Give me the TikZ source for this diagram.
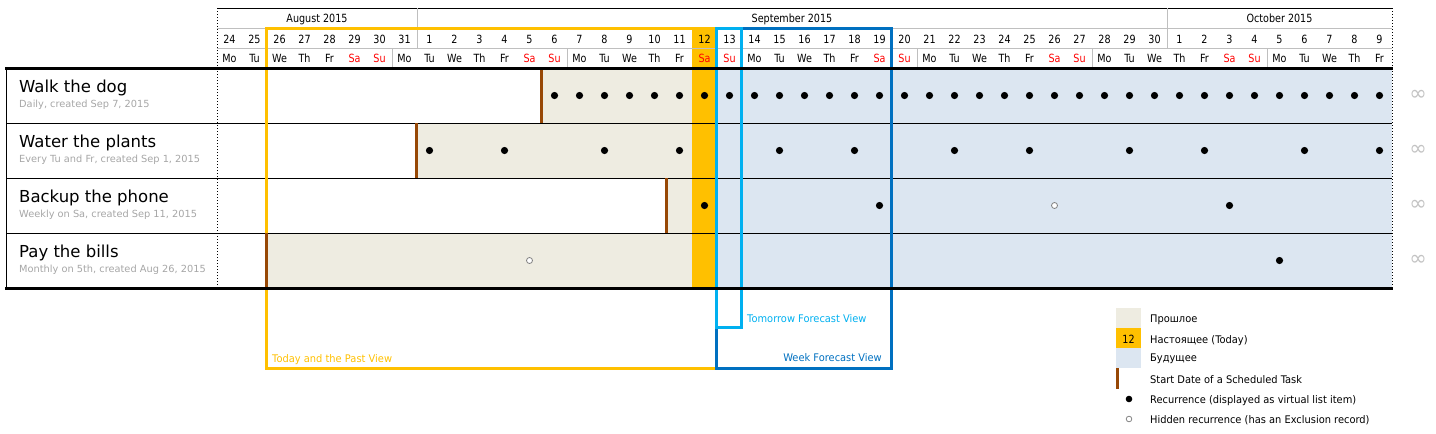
\documentclass[tikz,border=0pt]{standalone}
\usepackage{fontspec}
\setmainfont{DejaVu Sans}
\newfontfamily\hdrfont[FakeStretch=0.85]{DejaVu Sans}
\newfontfamily\legfont[FakeStretch=0.94]{DejaVu Sans}
\definecolor{past}{RGB}{238,236,225}
\definecolor{today}{RGB}{255,192,0}
\definecolor{future}{RGB}{220,230,241}
\definecolor{startc}{RGB}{151,72,6}
\definecolor{tomc}{RGB}{0,176,240}
\definecolor{weekc}{RGB}{0,112,192}
\definecolor{gridg}{RGB}{191,191,191}
\definecolor{subg}{RGB}{166,166,166}
\definecolor{infg}{RGB}{195,195,195}
\definecolor{wkend}{RGB}{255,0,0}
\begin{document}
\begin{tikzpicture}[x=1pt,y=-1pt,
  hdrtxt/.style={font=\hdrfont\fontsize{11.3}{13}\selectfont, inner sep=0pt, anchor=base},
  titletxt/.style={font=\fontsize{16.5}{19}\selectfont, inner sep=0pt, anchor=base west},
  subtxt/.style={font=\fontsize{9.8}{12}\selectfont, text=subg, inner sep=0pt, anchor=base west},
  legtxt/.style={font=\legfont\fontsize{10.5}{12}\selectfont, inner sep=0pt, anchor=base west},
  gridline/.style={draw=gridg, line width=1pt},
  rowline/.style={draw=black, line width=1pt},
  thickline/.style={draw=black, line width=3pt},
  dotline/.style={draw=black, line width=1pt, dotted},
  startline/.style={draw=startc, line width=2.5pt},
  framebox/.style={line width=3pt},
  recdot/.style={fill=black},
  hiddot/.style={draw=gray, line width=0.8pt, fill=white},
  inftxt/.style={font=\fontsize{21}{21}\selectfont, text=infg, inner sep=0pt}
]
\useasboundingbox (0,0) rectangle (1436,434);

% ---------- backgrounds ----------
\fill[past] (542,68) rectangle (692,123);
\fill[past] (417,123) rectangle (692,178);
\fill[past] (667,178) rectangle (692,233);
\fill[past] (267,233) rectangle (692,288);
\fill[today] (692,28) rectangle (717,288);
\fill[future] (717,68) rectangle (1392,288);

% ---------- header grid ----------
\draw[rowline] (217,8) -- (1392,8);
\draw[gridline] (217,28) -- (1392,28);
\draw[gridline] (217,48) -- (1392,48);
\foreach \x in {417,1167} \draw[gridline] (\x,8) -- (\x,48);
\foreach \x in {392,567,742,917,1092,1267} \draw[gridline] (\x,48) -- (\x,68);

% month labels
\node[hdrtxt] (mAug) at (317,22) {August 2015};
\node[hdrtxt] (mSep) at (792,22) {September 2015};
\node[hdrtxt] (mOct) at (1279.5,22) {October 2015};

% day numbers and weekdays
\foreach \i in {0,...,46}{
  \pgfmathtruncatemacro\dnum{\i<8 ? 24+\i : (\i<38 ? \i-7 : \i-37)}
  \pgfmathtruncatemacro\wdn{mod(\i,7)}
  \pgfmathsetmacro\cx{229.5+25*\i}
  \ifnum\wdn>4 \def\wcol{wkend}\else\def\wcol{black}\fi
  \node[hdrtxt] (dn\i) at (\cx,43) {\dnum};
  \node[hdrtxt, text=\wcol] (wd\i) at (\cx,62) {\ifcase\wdn Mo\or Tu\or We\or Th\or Fr\or Sa\or Su\fi};
}

% ---------- task grid ----------
\draw[rowline] (6,68) -- (6,288);
\foreach \y in {123,178,233} \draw[rowline] (6,\y) -- (1392,\y);
\draw[dotline] (217,8) -- (217,288);
\draw[dotline] (1392,8) -- (1392,288);

% task labels
\node[titletxt] (t1) at (19,92) {Walk the dog};
\node[subtxt] (s1) at (19,107) {Daily, created Sep 7, 2015};
\node[titletxt] (t2) at (19,147) {Water the plants};
\node[subtxt] (s2) at (19,162) {Every Tu and Fr, created Sep 1, 2015};
\node[titletxt] (t3) at (19,202) {Backup the phone};
\node[subtxt] (s3) at (19,217) {Weekly on Sa, created Sep 11, 2015};
\node[titletxt] (t4) at (19,257) {Pay the bills};
\node[subtxt] (s4) at (19,272) {Monthly on 5th, created Aug 26, 2015};

% ---------- recurrences ----------
\foreach \i in {13,...,46} \fill[recdot] (229.5+25*\i,95.5) circle[radius=3.6pt];
\foreach \i in {8,11,15,18,22,25,29,32,36,39,43,46} \fill[recdot] (229.5+25*\i,150.5) circle[radius=3.6pt];
\foreach \i in {19,26,40} \fill[recdot] (229.5+25*\i,205.5) circle[radius=3.6pt];
\draw[hiddot] (229.5+25*33,205.5) circle[radius=3pt];
\fill[recdot] (229.5+25*42,260.5) circle[radius=3.6pt];
\draw[hiddot] (229.5+25*12,260.5) circle[radius=3pt];

% infinity
\foreach \y [count=\k] in {95.5,150.5,205.5,260.5} \node[inftxt] (inf\k) at (1418,\y) {∞};

% ---------- view frames ----------
\draw[framebox, draw=today] (266,28) rectangle (716,368);
\draw[framebox, draw=weekc] (716,28) rectangle (891,368);
\draw[framebox, draw=tomc] (716,28) rectangle (741,327);

\node[legtxt, text=today] (lpast) at (272,362) {Today and the Past View};
\node[legtxt, text=tomc] (ltom) at (747,322) {Tomorrow Forecast View};
\node[legtxt, text=weekc, anchor=base east] (lweek) at (882,361) {Week Forecast View};

% start date lines
\draw[startline] (541.5,68) -- (541.5,123);
\draw[startline] (416.5,123) -- (416.5,178);
\draw[startline] (666.5,178) -- (666.5,233);
\draw[startline] (266.5,233) -- (266.5,288);

% thick rules
\draw[thickline] (5,68) -- (1393,68);
\draw[thickline] (5,288) -- (1393,288);

% ---------- legend ----------
\fill[past] (1116,308) rectangle (1141,328);
\fill[today] (1116,328) rectangle (1141,348);
\fill[future] (1116,348) rectangle (1141,368);
\node[hdrtxt] (lg12) at (1128.5,343) {12};
\draw[startline] (1117.5,368) -- (1117.5,389);
\fill[recdot] (1129,399) circle[radius=3.3pt];
\draw[hiddot] (1129,419) circle[radius=2.8pt];
\node[legtxt] (lgA) at (1150,322) {Прошлое};
\node[legtxt] (lgB) at (1150,343) {Настоящее (Today)};
\node[legtxt] (lgC) at (1150,361) {Будущее};
\node[legtxt] (lgD) at (1150,383) {Start Date of a Scheduled Task};
\node[legtxt] (lgE) at (1150,403) {Recurrence (displayed as virtual list item)};
\node[legtxt] (lgF) at (1150,423) {Hidden recurrence (has an Exclusion record)};
\end{tikzpicture}
\end{document}
